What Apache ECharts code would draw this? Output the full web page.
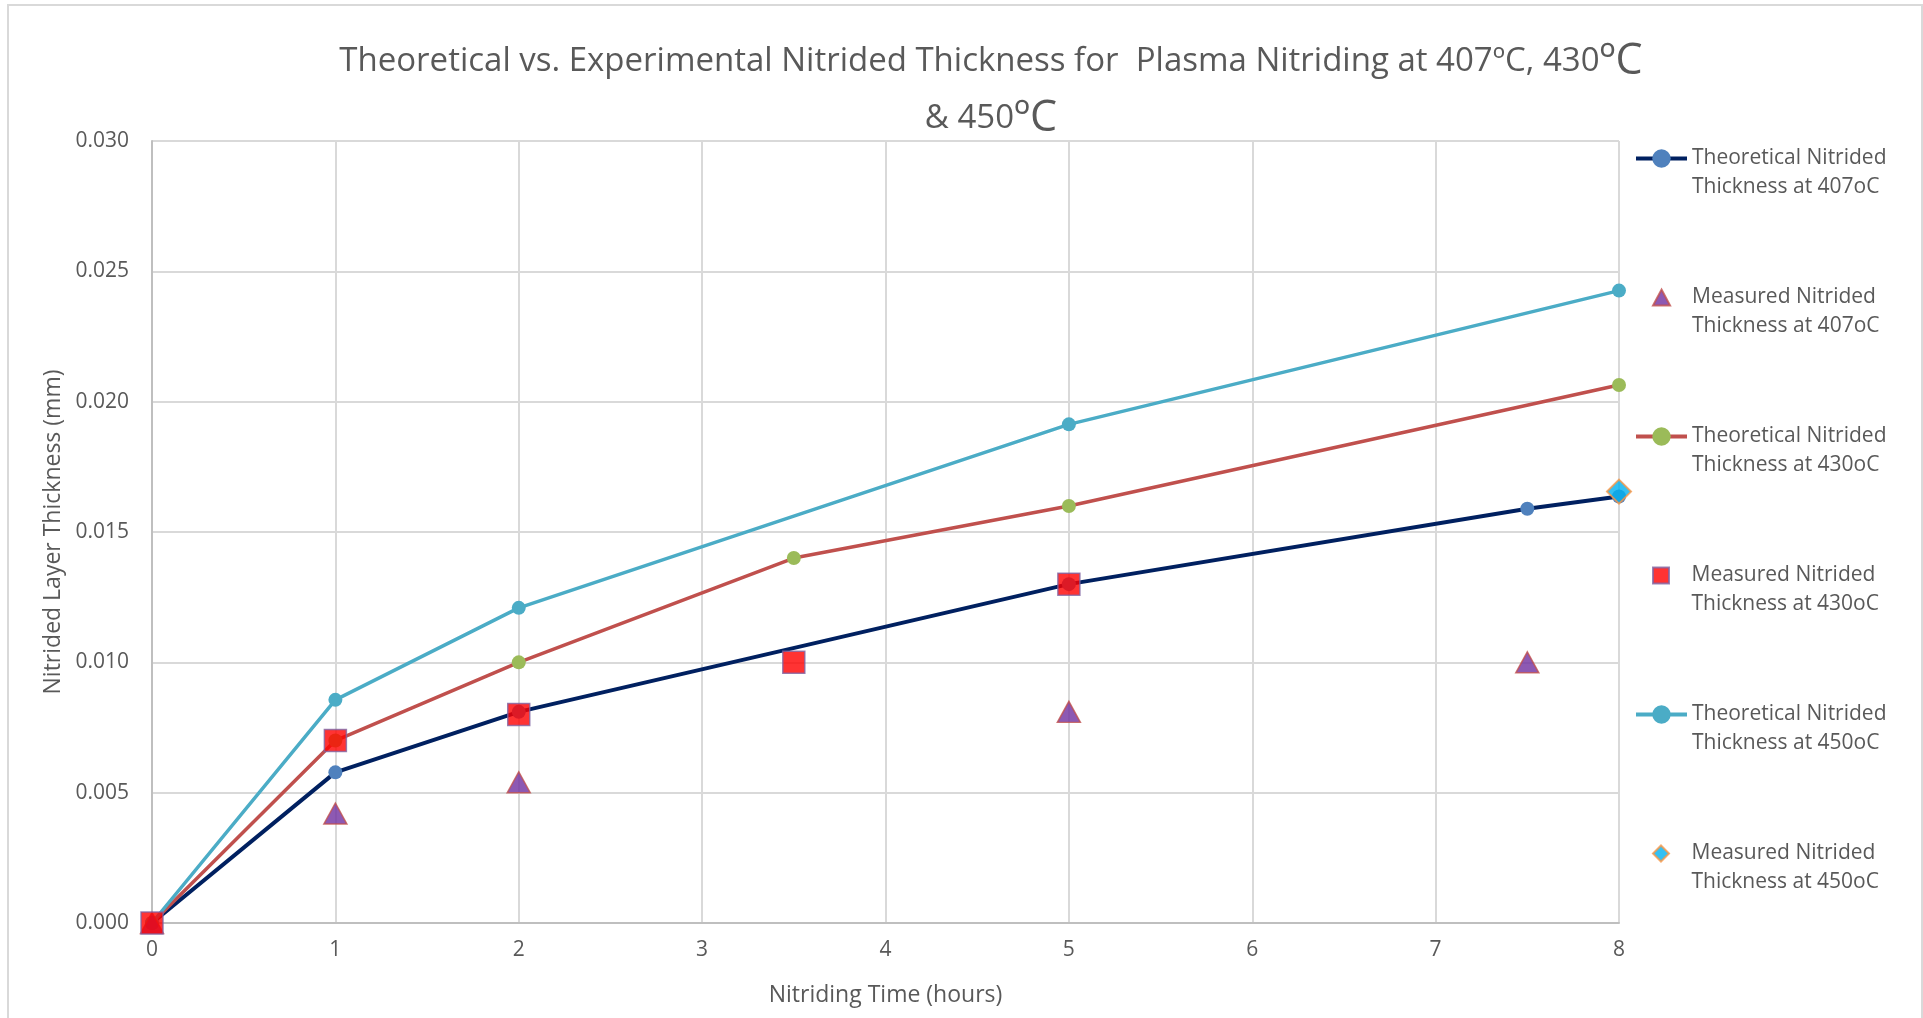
<!DOCTYPE html>
<html>
<head>
<meta charset="utf-8">
<script src="https://cdn.jsdelivr.net/npm/echarts@6/dist/echarts.min.js"></script>
<style>html,body{margin:0;padding:0;background:#fff;}#c{width:1923px;height:1018px;}</style>
</head>
<body>
<div id="c"></div>
<script>
// ---- Data ----
const theo407X = [0, 1, 2, 5, 7.5, 8];
const theo407Y = [0, 0.00578, 0.0081, 0.0130, 0.01589, 0.01636];
const meas407X = [0, 1, 2, 5, 7.5];
const meas407Y = [0, 0.0042, 0.0054, 0.0081, 0.0100];
const theo430X = [0, 1, 2, 3.5, 5, 8];
const theo430Y = [0, 0.0070, 0.0100, 0.0140, 0.0160, 0.02064];
const meas430X = [0, 1, 2, 3.5, 5];
const meas430Y = [0, 0.0070, 0.0080, 0.0100, 0.0130];
const theo450X = [0, 1, 2, 5, 8];
const theo450Y = [0, 0.00856, 0.01209, 0.01913, 0.02426];
const meas450X = [8];
const meas450Y = [0.01655];

const seriesNames = [
  'Theoretical Nitrided Thickness at 407oC',
  'Measured Nitrided Thickness at 407oC',
  'Theoretical Nitrided Thickness at 430oC',
  'Measured Nitrided Thickness at 430oC',
  'Theoretical Nitrided Thickness at 450oC',
  'Measured Nitrided Thickness at 450oC'
];
const yTicks = ['0.000','0.005','0.010','0.015','0.020','0.025','0.030'];
const xTicks = ['0','1','2','3','4','5','6','7','8'];

const pairs = (xs, ys) => xs.map((x, i) => [x, ys[i]]);
const FONT = '"Open Sans", "Noto Sans", sans-serif';
const TXT = '#595959';

const TRI = 'path://M8,0 L16,15 L0,15 Z';
const SQR = 'path://M0,0 L16,0 L16,16 L0,16 Z';
const DIA = 'path://M8,0 L16,8 L8,16 L0,8 Z';
const legendIcons = [null, TRI, null, SQR, null, DIA];

// one legend component per entry so line icons and marker icons can differ in size
const legends = seriesNames.map((nm, i) => {
  const isLine = legendIcons[i] === null;
  return {
    orient: 'vertical',
    left: isLine ? 1629 : 1647,
    top: 110 + i * 139,
    itemWidth: 51,
    itemHeight: isLine ? 23 : 16,
    lineStyle: {width: 4},
    data: [isLine ? {name: nm} : {name: nm, icon: legendIcons[i]}],
    formatter: function (name) {
      const parts = name.split(' Thickness');
      return ' \n' + parts[0] + '\nThickness' + parts[1];
    },
    textStyle: {fontFamily: FONT, fontSize: 21, color: TXT, lineHeight: 29}
  };
});

const chart = echarts.init(document.getElementById('c'), null, {renderer: 'canvas'});
chart.setOption({
  animation: false,
  backgroundColor: '#fff',
  graphic: [{
    type: 'rect', shape: {x: 8, y: 5, width: 1914, height: 1030},
    style: {fill: 'none', stroke: '#D9D9D9', lineWidth: 2}, silent: true, z: -10
  }],
  title: {
    left: 986,
    top: 28,
    text: '{a|Theoretical vs. Experimental Nitrided Thickness for  Plasma Nitriding at 407ºC, 430}{b|ºC}\n{a|& 450}{b|ºC}',
    textAlign: 'center',
    textStyle: {
      fontWeight: 'normal',
      rich: {
        a: {fontFamily: FONT, fontSize: 33, fontWeight: 'normal', color: TXT, lineHeight: 57},
        b: {fontFamily: FONT, fontSize: 43, fontWeight: 'normal', color: TXT, lineHeight: 57}
      }
    }
  },
  grid: {left: 152, right: 304, top: 141, bottom: 95, containLabel: false},
  legend: legends,
  xAxis: {
    type: 'value', min: 0, max: 8, interval: 1,
    name: 'Nitriding Time (hours)', nameLocation: 'middle', nameGap: 61,
    nameTextStyle: {fontFamily: FONT, fontSize: 23, color: TXT},
    axisLine: {show: true, lineStyle: {color: '#BFBFBF', width: 2}},
    axisTick: {show: false},
    axisLabel: {fontFamily: FONT, fontSize: 21, color: TXT, margin: 17,
      formatter: (v) => xTicks[Math.round(v)]},
    splitLine: {show: true, lineStyle: {color: '#D9D9D9', width: 2}}
  },
  yAxis: {
    type: 'value', min: 0, max: 0.03, interval: 0.005,
    name: 'Nitrided Layer Thickness (mm)', nameLocation: 'middle', nameGap: 84,
    nameTextStyle: {fontFamily: FONT, fontSize: 23, color: TXT},
    axisLine: {show: true, lineStyle: {color: '#BFBFBF', width: 2}},
    axisTick: {show: false},
    axisLabel: {fontFamily: FONT, fontSize: 21, color: TXT, margin: 23,
      formatter: (v) => yTicks[Math.round(v / 0.005)]},
    splitLine: {show: true, lineStyle: {color: '#D9D9D9', width: 2}}
  },
  series: [
    {
      name: seriesNames[0], type: 'line', data: pairs(theo407X, theo407Y),
      symbol: 'circle', symbolSize: 14, z: 2,
      lineStyle: {color: '#002060', width: 4},
      itemStyle: {color: '#4F81BD', borderWidth: 0}
    },
    {
      name: seriesNames[1], type: 'scatter', data: pairs(meas407X, meas407Y),
      symbol: 'triangle', symbolSize: [23, 21], z: 5,
      itemStyle: {color: '#7030A0', borderColor: '#C0504D', borderWidth: 1.5}
    },
    {
      name: seriesNames[2], type: 'line', data: pairs(theo430X, theo430Y),
      symbol: 'circle', symbolSize: 14, z: 2,
      lineStyle: {color: '#C0504D', width: 3.5},
      itemStyle: {color: '#9BBB59', borderWidth: 0}
    },
    {
      name: seriesNames[3], type: 'scatter', data: pairs(meas430X, meas430Y),
      symbol: 'rect', symbolSize: 22, z: 6,
      itemStyle: {color: '#FF0000', borderColor: '#8064A2', borderWidth: 1.5}
    },
    {
      name: seriesNames[4], type: 'line', data: pairs(theo450X, theo450Y),
      symbol: 'circle', symbolSize: 14, z: 2,
      lineStyle: {color: '#4BACC6', width: 3.5},
      itemStyle: {color: '#4BACC6', borderWidth: 0}
    },
    {
      name: seriesNames[5], type: 'scatter', data: pairs(meas450X, meas450Y),
      symbol: 'diamond', symbolSize: 24, z: 7,
      itemStyle: {color: '#00B0F0', borderColor: '#F79646', borderWidth: 2}
    }
  ]
});
</script>
</body>
</html>
